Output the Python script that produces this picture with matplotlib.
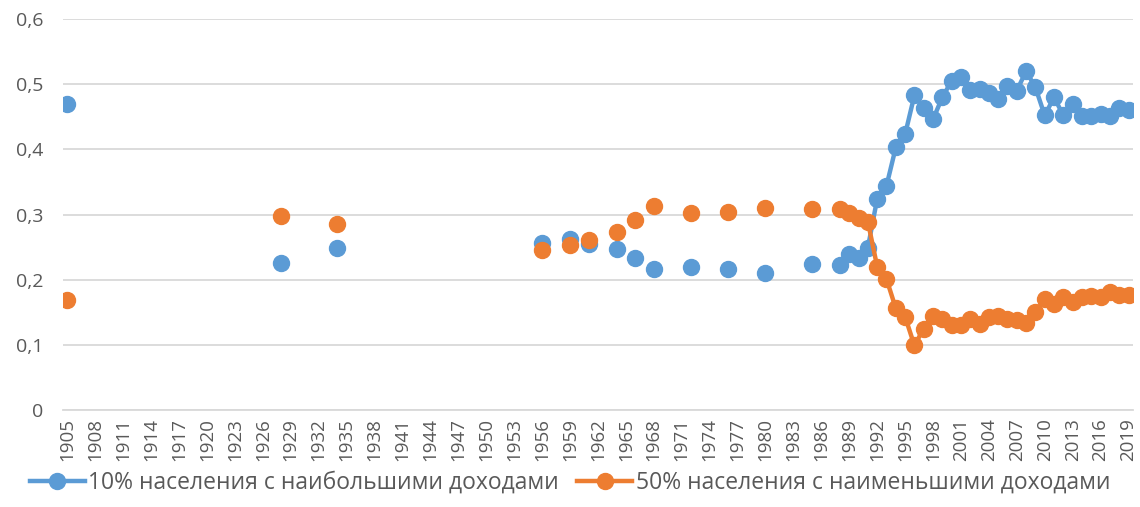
import numpy as np
import pandas as pd
import matplotlib
matplotlib.use("Agg")
import matplotlib.pyplot as plt

# years with observations (both series share them)
years = [1905, 1928, 1934, 1956, 1959, 1961, 1964, 1966, 1968, 1972, 1976, 1980, 1985,
         1988, 1989, 1990, 1991, 1992, 1993, 1994, 1995, 1996, 1997, 1998, 1999,
         2000, 2001, 2002, 2003, 2004, 2005, 2006, 2007, 2008, 2009, 2010, 2011,
         2012, 2013, 2014, 2015, 2016, 2017, 2018, 2019]

top10 = [0.469, 0.225, 0.248, 0.257, 0.263, 0.255, 0.247, 0.233, 0.216, 0.220, 0.217, 0.210, 0.224,
         0.223, 0.239, 0.234, 0.249, 0.324, 0.344, 0.403, 0.423, 0.483, 0.463, 0.446, 0.480,
         0.505, 0.511, 0.491, 0.492, 0.486, 0.478, 0.497, 0.490, 0.520, 0.495, 0.452, 0.480,
         0.452, 0.470, 0.451, 0.451, 0.455, 0.451, 0.463, 0.461]

bottom50 = [0.169, 0.298, 0.285, 0.245, 0.253, 0.261, 0.273, 0.292, 0.313, 0.303, 0.304, 0.310, 0.309,
            0.309, 0.302, 0.295, 0.289, 0.220, 0.201, 0.156, 0.143, 0.099, 0.125, 0.145, 0.139,
            0.130, 0.131, 0.139, 0.132, 0.142, 0.145, 0.140, 0.138, 0.134, 0.150, 0.170, 0.163,
            0.173, 0.165, 0.174, 0.175, 0.174, 0.181, 0.176, 0.177]

labels = ["10% населения с наибольшими доходами", "50% населения с наименьшими доходами"]
colors = ["#5B9BD5", "#ED7D31"]

all_years = list(range(1905, 2020))
df = pd.DataFrame({"top10": top10, "bottom50": bottom50}, index=years).reindex(all_years)

plt.rcParams["font.family"] = ["Open Sans", "DejaVu Sans"]
text_col = "#595959"

fig = plt.figure(figsize=(11.4, 5.07), dpi=100)
ax = fig.add_axes([0.055, 0.1913, 0.939, 0.7712])

x = np.arange(len(all_years))
for col, lab, c in zip(["top10", "bottom50"], labels, colors):
    ax.plot(x, df[col].values, color=c, linewidth=3.2, marker="o", markersize=11.5,
            label=lab, zorder=3)

ax.set_xlim(-0.5, len(all_years) - 0.5)
ax.set_ylim(0, 0.6)
yt = np.arange(0, 0.61, 0.1)
ax.set_yticks(yt)
ax.set_yticklabels(["0" if v == 0 else f"{v:.1f}".replace(".", ",") for v in yt])
ax.set_xticks(x[::3])
ax.set_xticklabels([str(y) for y in all_years[::3]], rotation=90)

ax.grid(axis="y", color="#D9D9D9", linewidth=1.3)
ax.set_axisbelow(True)
for s in ["top", "right", "left"]:
    ax.spines[s].set_visible(False)
ax.spines["bottom"].set_color("#D9D9D9")
ax.spines["bottom"].set_linewidth(1.3)
ax.tick_params(length=0, colors=text_col, labelsize=13.5)
ax.tick_params(axis="y", pad=14, labelsize=14)
ax.tick_params(axis="x", pad=6)

leg = fig.legend(loc="lower center", bbox_to_anchor=(0.5, -0.017), ncol=2, frameon=False,
                 fontsize=16.5, handlelength=2.4, columnspacing=0.8, handletextpad=0.15)
for t in leg.get_texts():
    t.set_color(text_col)

fig.savefig("out.png", dpi=100)
